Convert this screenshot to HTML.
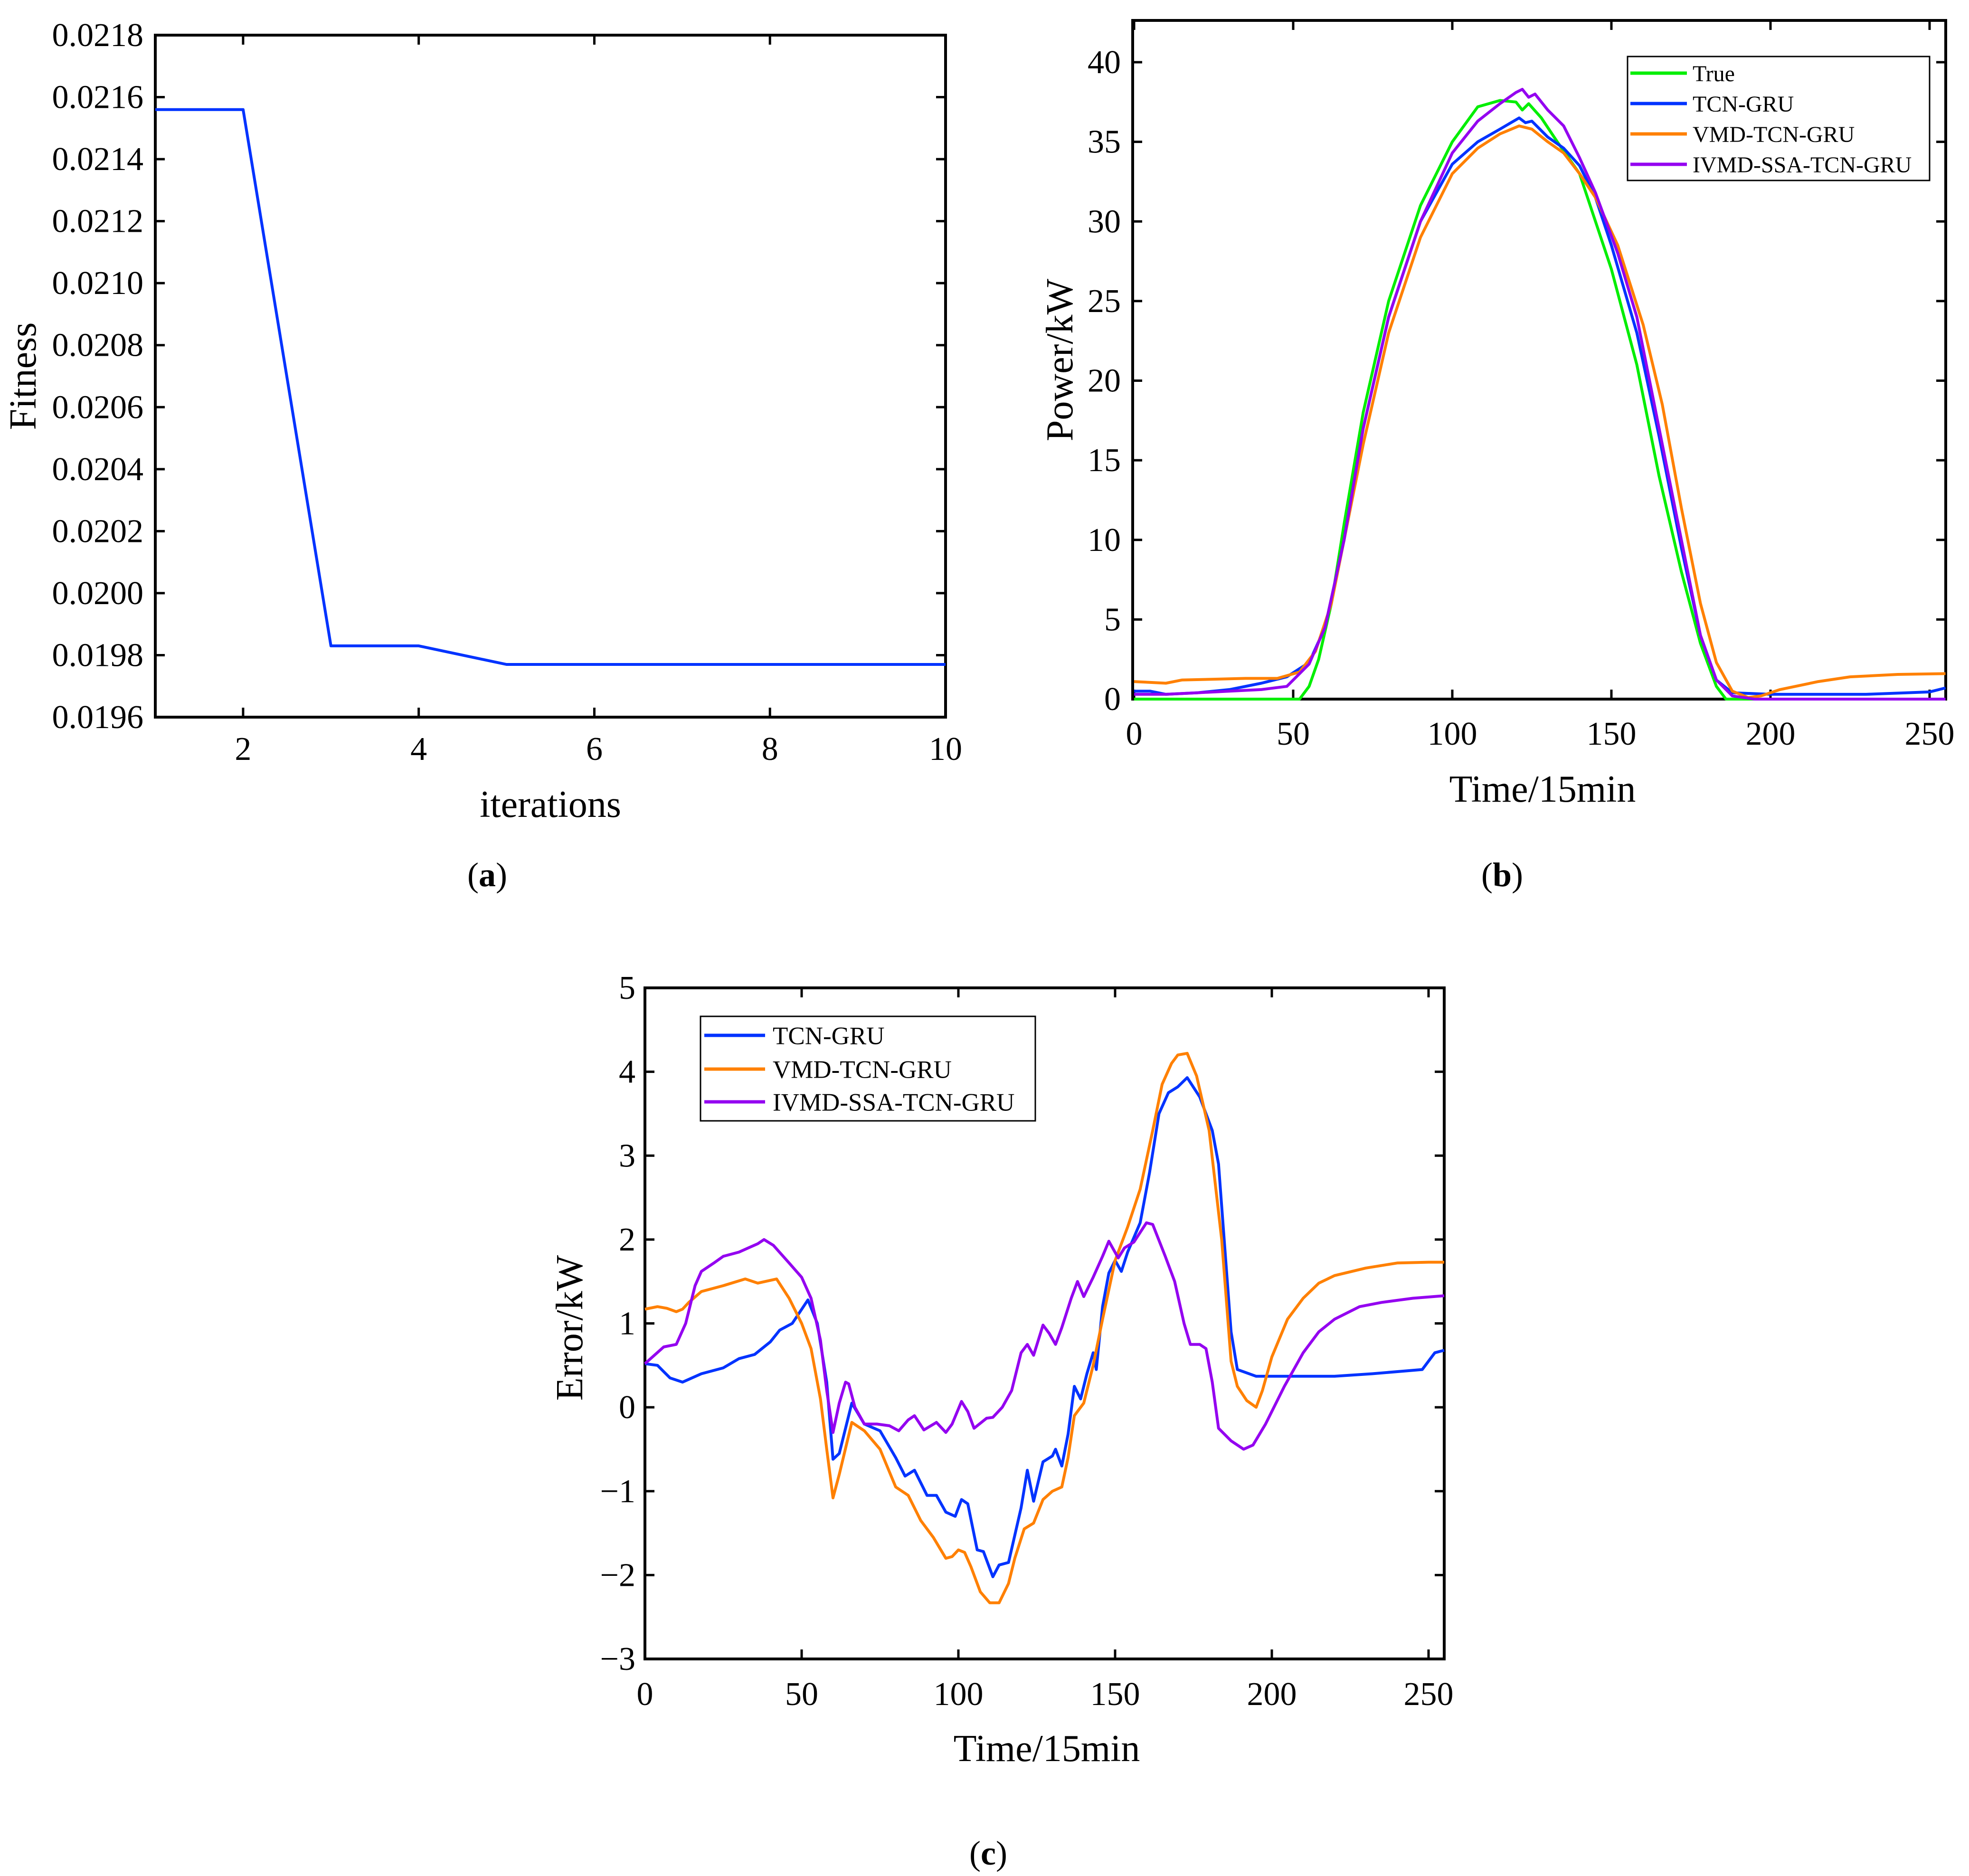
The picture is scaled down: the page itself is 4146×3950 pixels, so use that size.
<!DOCTYPE html>
<html><head><meta charset="utf-8">
<style>
html,body{margin:0;padding:0;background:#fff;}
svg{display:block;font-family:"Liberation Serif","Times New Roman",serif;}
</style></head>
<body>
<svg id="fig" width="4146" height="3950" viewBox="0 0 4146 3950" xmlns="http://www.w3.org/2000/svg"></svg>
<script>
// ---------- Panel (a) data ----------
const aIter = [1,2,3,4,5,6,7,8,9,10];
const aFitness = [0.02156,0.02156,0.01983,0.01983,0.01977,0.01977,0.01977,0.01977,0.01977,0.01977];
const aXTicks = [2,4,6,8,10];
const aYTicks = [0.0196,0.0198,0.0200,0.0202,0.0204,0.0206,0.0208,0.0210,0.0212,0.0214,0.0216,0.0218];

// ---------- Panel (b) data ----------
const bTrueX = [0,52,55,58,62,66,72,80,90,100,108,115,120,122,124,128,133,140,145,150,158,165,172,178,183,186,255];
const bTrueY = [0,0,0.8,2.5,6,11,18,25,31,35,37.2,37.6,37.5,37.0,37.4,36.5,35,33,30,27,21,14,8,3.5,0.8,0,0];
const bTcnX = [0,5,10,20,30,40,48,55,60,66,72,80,90,100,108,115,121,123,125,130,135,140,145,150,158,165,172,178,183,188,200,230,250,255];
const bTcnY = [0.5,0.5,0.3,0.4,0.6,1.0,1.4,2.3,4.5,10,17,24,30,33.6,35.0,35.8,36.5,36.2,36.3,35.3,34.6,33.5,31.5,28.5,23,16.5,9.5,4,1.2,0.4,0.3,0.3,0.45,0.7];
const bVmdX = [0,10,15,25,35,45,52,57,62,66,72,80,90,100,108,115,121,125,130,135,140,145,152,160,166,172,178,183,188,193,197,203,215,225,240,255];
const bVmdY = [1.1,1.0,1.2,1.25,1.3,1.3,1.7,3,6,10,16,23,29,33,34.6,35.5,36.0,35.8,35,34.3,33,31.5,28.5,23.5,18.5,12,6,2.3,0.5,0.1,0.2,0.6,1.1,1.4,1.55,1.6];
const bIvmdX = [0,10,20,30,40,48,55,60,66,72,80,90,100,108,115,120,122,124,126,130,135,140,145,152,158,165,172,178,183,188,195,255];
const bIvmdY = [0.3,0.3,0.4,0.5,0.6,0.8,2.2,4.5,10,17,24,30,34.3,36.3,37.4,38.1,38.3,37.8,38.0,37,36,34,31.8,28,24,17,10,4,1.2,0.2,0,0];
const bXTicks = [0,50,100,150,200,250];
const bYTicks = [0,5,10,15,20,25,30,35,40];

// ---------- Panel (c) data ----------
const cTcnX = [0,4,8,12,18,25,30,35,40,43,47,52,55,58,60,62,66,70,75,80,83,86,90,93,96,99,101,103,106,108,111,113,116,120,122,124,127,130,131,133,135,137,139,141,143,144,146,148,150,152,154,158,161,164,167,170,173,177,181,183,187,189,195,220,232,248,252,255];
const cTcnY = [0.52,0.5,0.35,0.3,0.4,0.47,0.58,0.63,0.78,0.92,1.0,1.28,1.0,0.3,-0.62,-0.55,0.05,-0.2,-0.28,-0.6,-0.82,-0.75,-1.05,-1.05,-1.25,-1.3,-1.1,-1.15,-1.7,-1.72,-2.02,-1.88,-1.85,-1.2,-0.75,-1.12,-0.65,-0.58,-0.5,-0.7,-0.32,0.25,0.1,0.4,0.65,0.45,1.2,1.6,1.75,1.62,1.85,2.2,2.8,3.5,3.75,3.82,3.93,3.7,3.3,2.9,0.9,0.45,0.37,0.37,0.4,0.45,0.65,0.68];
const cVmdX = [0,4,7,10,12,14,18,25,32,36,42,46,50,53,56,58,60,62,66,70,75,80,84,88,92,96,98,100,102,104,107,110,113,116,118,121,124,127,130,133,135,137,140,143,146,150,154,158,162,165,168,170,173,176,180,184,187,189,192,195,197,200,205,210,215,220,230,240,250,255];
const cVmdY = [1.17,1.2,1.18,1.14,1.17,1.25,1.38,1.45,1.53,1.48,1.53,1.3,1.0,0.7,0.1,-0.5,-1.08,-0.8,-0.18,-0.28,-0.5,-0.95,-1.05,-1.35,-1.55,-1.8,-1.78,-1.7,-1.73,-1.9,-2.2,-2.33,-2.33,-2.1,-1.8,-1.45,-1.38,-1.1,-1.0,-0.95,-0.6,-0.1,0.05,0.5,1.05,1.75,2.15,2.6,3.3,3.85,4.1,4.2,4.22,3.95,3.3,2.0,0.55,0.25,0.08,0.0,0.2,0.6,1.05,1.3,1.48,1.57,1.66,1.72,1.73,1.73];
const cIvmdX = [0,3,6,10,13,16,18,22,25,30,33,36,38,41,46,50,53,56,58,60,62,64,65,67,70,74,78,81,84,86,89,93,96,98,101,103,105,109,111,114,117,120,122,124,127,129,131,133,136,138,140,143,146,148,151,153,156,160,162,166,169,172,174,177,179,181,183,187,191,194,198,204,210,215,220,228,235,245,255];
const cIvmdY = [0.52,0.62,0.72,0.75,1.0,1.45,1.62,1.72,1.8,1.85,1.9,1.95,2.0,1.93,1.72,1.55,1.3,0.8,0.2,-0.3,0.05,0.3,0.28,0.0,-0.2,-0.2,-0.22,-0.28,-0.15,-0.1,-0.27,-0.18,-0.3,-0.2,0.07,-0.05,-0.25,-0.13,-0.12,0.0,0.2,0.65,0.75,0.62,0.98,0.88,0.75,0.95,1.3,1.5,1.32,1.55,1.8,1.98,1.78,1.9,1.97,2.2,2.18,1.8,1.5,1.0,0.75,0.75,0.7,0.3,-0.25,-0.4,-0.5,-0.45,-0.2,0.25,0.65,0.9,1.05,1.2,1.25,1.3,1.33];
const cXTicks = [0,50,100,150,200,250];
const cYTicks = [-3,-2,-1,0,1,2,3,4,5];

const NS = "http://www.w3.org/2000/svg";
const svg = document.getElementById('fig');
function mk(tag, attrs, parent) {
  const e = document.createElementNS(NS, tag);
  for (const k in attrs) e.setAttribute(k, attrs[k]);
  (parent || svg).appendChild(e);
  return e;
}
function txt(s, attrs, parent) { const t = mk('text', attrs, parent); t.textContent = s; return t; }
function lin(d0, d1, r0, r1) { return v => r0 + (v - d0) * (r1 - r0) / (d1 - d0); }

function panel(name, box, xd, xr, yd, yr, xticks, yticks, fmtX, fmtY, xLabelY, yLabelRight) {
  const g = mk('g', {});
  
  
  const sx = lin(xd[0], xd[1], xr[0], xr[1]);
  const sy = lin(yd[0], yd[1], yr[0], yr[1]);
  const ticksG = mk('g', {stroke: '#000', 'stroke-width': 5}, g);
  
  
  const xl = mk('g', {'font-size': 70, 'text-anchor': 'middle'}, g);
  
  
  xticks.forEach(v => {
    const x = sx(v);
    mk('line', {x1: x, x2: x, y1: box.ybottom, y2: box.ybottom - 20}, ticksG);
    mk('line', {x1: x, x2: x, y1: box.ytop, y2: box.ytop + 20}, ticksG);
    txt(fmtX(v), {x: x, y: xLabelY}, xl);
  });
  const yl = mk('g', {'font-size': 70, 'text-anchor': 'end'}, g);
  
  
  yticks.forEach(v => {
    const y = sy(v);
    mk('line', {x1: box.xleft, x2: box.xleft + 20, y1: y, y2: y}, ticksG);
    mk('line', {x1: box.xright, x2: box.xright - 20, y1: y, y2: y}, ticksG);
    txt(fmtY(v), {x: yLabelRight, y: y + 23}, yl);
  });
  const frame = mk('rect', {x: box.xleft, y: box.ytop, width: box.xright - box.xleft, height: box.ybottom - box.ytop, fill: 'none', stroke: '#000', 'stroke-width': 6}, g);
  
  
  return {g, sx, sy};
}
function series(p, xs, ys, color, name) {
  const d = xs.map((x, i) => (i ? 'L' : 'M') + p.sx(x).toFixed(1) + ' ' + p.sy(ys[i]).toFixed(1)).join(' ');
  const e = mk('path', {d: d, fill: 'none', stroke: color, 'stroke-width': 6, 'stroke-linejoin': 'round'}, p.g);
  
  
}
function legend(parent, name, x, y, w, h, items, lineX0, lineX1, textX, ys, fs) {
  const g = mk('g', {}, parent);
  
  
  mk('rect', {x: x, y: y, width: w, height: h, fill: '#fff', stroke: '#000', 'stroke-width': 3}, g);
  items.forEach((it, i) => {
    const e = mk('g', {}, g);
    
    
    mk('line', {x1: lineX0, x2: lineX1, y1: ys[i], y2: ys[i], stroke: it[1], 'stroke-width': 7}, e);
    txt(it[0], {x: textX, y: ys[i] + fs * 0.35, 'font-size': fs}, e);
  });
}
const GREEN = '#00ee00', BLUE = '#0033ff', ORANGE = '#ff8000', PURPLE = '#9400f0';

// ---------- Panel (a) ----------
const pa = panel('fitness-chart', {xleft: 327, xright: 1991, ytop: 74, ybottom: 1510},
  [1, 10], [327, 1991], [0.0196, 0.0218], [1510, 74], aXTicks, aYTicks,
  v => String(v), v => v.toFixed(4), 1600, 302);
series(pa, aIter, aFitness, BLUE, 'fitness-line');
const aXT = txt('iterations', {x: 1159, y: 1720, 'font-size': 80, 'text-anchor': 'middle'});
 
const aYT = txt('Fitness', {x: 0, y: 0, 'font-size': 80, 'text-anchor': 'middle', transform: 'translate(75 792) rotate(-90)'});
 

// ---------- Panel (b) ----------
const pb = panel('power-chart', {xleft: 2385, xright: 4097, ytop: 43, ybottom: 1472},
  [0, 250], [2388, 4063], [0, 40], [1472, 131], bXTicks, bYTicks,
  v => String(v), v => String(v), 1568, 2360);
series(pb, bTrueX, bTrueY, GREEN, 'power-true-line');
series(pb, bTcnX, bTcnY, BLUE, 'power-tcn-gru-line');
series(pb, bVmdX, bVmdY, ORANGE, 'power-vmd-tcn-gru-line');
series(pb, bIvmdX, bIvmdY, PURPLE, 'power-ivmd-ssa-tcn-gru-line');
legend(pb.g, 'power-legend', 3427, 119, 636, 261,
  [['True', GREEN], ['TCN-GRU', BLUE], ['VMD-TCN-GRU', ORANGE], ['IVMD-SSA-TCN-GRU', PURPLE]],
  3433, 3552, 3564, [154, 218, 282, 346], 48);
const bXT = txt('Time/15min', {x: 3248, y: 1688, 'font-size': 80, 'text-anchor': 'middle'});
 
const bYT = txt('Power/kW', {x: 0, y: 0, 'font-size': 80, 'text-anchor': 'middle', transform: 'translate(2258 758) rotate(-90)'});
 

// ---------- Panel (c) ----------
const pc = panel('error-chart', {xleft: 1358, xright: 3041, ytop: 2080, ybottom: 3493},
  [0, 250], [1358, 3008], [-3, 5], [3493, 2080], cXTicks, cYTicks,
  v => String(v), v => (v < 0 ? '\u2212' + (-v) : String(v)), 3590, 1338);
series(pc, cTcnX, cTcnY, BLUE, 'error-tcn-gru-line');
series(pc, cVmdX, cVmdY, ORANGE, 'error-vmd-tcn-gru-line');
series(pc, cIvmdX, cIvmdY, PURPLE, 'error-ivmd-ssa-tcn-gru-line');
legend(pc.g, 'error-legend', 1475, 2140, 705, 220,
  [['TCN-GRU', BLUE], ['VMD-TCN-GRU', ORANGE], ['IVMD-SSA-TCN-GRU', PURPLE]],
  1483, 1611, 1627, [2180, 2251, 2320], 53);
const cXT = txt('Time/15min', {x: 2204, y: 3708, 'font-size': 80, 'text-anchor': 'middle'});
 
const cYT = txt('Error/kW', {x: 0, y: 0, 'font-size': 80, 'text-anchor': 'middle', transform: 'translate(1226 2796) rotate(-90)'});
 

// ---------- Sub-figure captions ----------
[['a', 1026, 1866], ['b', 3163, 1866], ['c', 2081, 3926]].forEach(c => {
  const t = mk('text', {x: c[1], y: c[2], 'font-size': 72, 'text-anchor': 'middle'});
  
  
  t.appendChild(document.createTextNode('('));
  const b = mk('tspan', {'font-weight': 'bold'}, t); b.textContent = c[0];
  t.appendChild(document.createTextNode(')'));
});
</script>
</body></html>
